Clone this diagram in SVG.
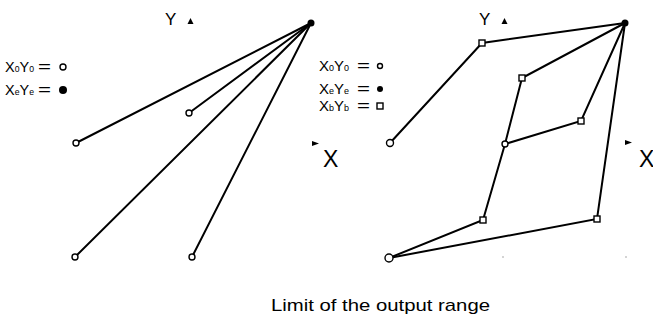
<svg xmlns="http://www.w3.org/2000/svg" width="653" height="320" viewBox="0 0 653 320">
<style>
.ln{stroke:#000;stroke-width:2;fill:none;stroke-linecap:round}
.oc{fill:#fff;stroke:#000;stroke-width:1.4}
.fc{fill:#000}
.sq{fill:#fff;stroke:#000;stroke-width:1.4}
.t{font-family:"Liberation Sans",Arial,sans-serif;fill:#000}
.lg{font-size:15px}
.sub{font-size:9px}
.eq{font-size:15px}
</style>
<rect width="653" height="320" fill="#fff"/>
<g id="connectors">
<line class="ln" x1="76" y1="143" x2="311" y2="23"/>
<line class="ln" x1="189" y1="113" x2="311" y2="23"/>
<line class="ln" x1="75" y1="257" x2="311" y2="23"/>
<line class="ln" x1="192" y1="257" x2="311" y2="23"/>
<polyline class="ln" points="390,143 482,43 625,23"/>
<polyline class="ln" points="625,23 522,78 505,144 483,220 389,258"/>
<polyline class="ln" points="625,23 581,121 505,144"/>
<polyline class="ln" points="625,23 597,219 389,258"/>
</g>
<g id="left-end"><circle class="fc" cx="311" cy="23" r="3.5"/></g>
<g id="left-s1"><circle class="oc" cx="76" cy="143" r="3"/></g>
<g id="left-s2"><circle class="oc" cx="189" cy="113" r="3"/></g>
<g id="left-s3"><circle class="oc" cx="75" cy="257" r="3"/></g>
<g id="left-s4"><circle class="oc" cx="192" cy="257" r="3"/></g>
<g id="right-end"><circle class="fc" cx="625" cy="23" r="3.5"/></g>
<g id="right-s1"><circle class="oc" cx="390" cy="143" r="3.5"/></g>
<g id="right-s2"><circle class="oc" cx="505" cy="144" r="3"/></g>
<g id="right-s3"><circle class="oc" cx="389" cy="258" r="4"/></g>
<g id="right-b1"><rect class="sq" x="479" y="40" width="6" height="6"/></g>
<g id="right-b2"><rect class="sq" x="519" y="75" width="6" height="6"/></g>
<g id="right-b3"><rect class="sq" x="578" y="118" width="6" height="6"/></g>
<g id="right-b4"><rect class="sq" x="480" y="217" width="6" height="6"/></g>
<g id="right-b5"><rect class="sq" x="594" y="216" width="6" height="6"/></g>
<g id="axes">
<text class="t" x="165" y="25" font-size="17">Y</text>
<polygon class="fc" points="190.5,18 193.5,24 187.5,24"/>
<text class="t" x="479" y="25" font-size="17">Y</text>
<polygon class="fc" points="504.5,18 507.5,24 501.5,24"/>
<polygon class="fc" points="312,141 319,143.5 312,146"/>
<text class="t" x="323" y="167" font-size="23">X</text>
<polygon class="fc" points="625,140 632,142.5 625,145"/>
<text class="t" x="639" y="167" font-size="23">X</text>
</g>
<g id="legend-left">
<text class="t lg" x="5" y="72" textLength="29" lengthAdjust="spacingAndGlyphs">X<tspan class="sub">0</tspan>Y<tspan class="sub">0</tspan></text>
<text class="t eq" x="38" y="72" textLength="13" lengthAdjust="spacingAndGlyphs">=</text>
<circle class="oc" cx="63" cy="67" r="3"/>
<text class="t lg" x="5" y="95" textLength="29" lengthAdjust="spacingAndGlyphs">X<tspan class="sub">e</tspan>Y<tspan class="sub">e</tspan></text>
<text class="t eq" x="38" y="95" textLength="13" lengthAdjust="spacingAndGlyphs">=</text>
<circle class="fc" cx="63" cy="90" r="4"/>
</g>
<g id="legend-right">
<text class="t lg" x="319" y="71" textLength="30" lengthAdjust="spacingAndGlyphs">X<tspan class="sub">0</tspan>Y<tspan class="sub">0</tspan></text>
<text class="t eq" x="357" y="71" textLength="13" lengthAdjust="spacingAndGlyphs">=</text>
<circle class="oc" cx="380" cy="66" r="2.5"/>
<text class="t lg" x="319" y="94" textLength="30" lengthAdjust="spacingAndGlyphs">X<tspan class="sub">e</tspan>Y<tspan class="sub">e</tspan></text>
<text class="t eq" x="357" y="94" textLength="13" lengthAdjust="spacingAndGlyphs">=</text>
<circle class="fc" cx="380" cy="89" r="3"/>
<text class="t lg" x="319" y="111" textLength="30" lengthAdjust="spacingAndGlyphs">X<tspan class="sub">b</tspan>Y<tspan class="sub">b</tspan></text>
<text class="t eq" x="357" y="111" textLength="13" lengthAdjust="spacingAndGlyphs">=</text>
<rect class="sq" x="377" y="103" width="6" height="6"/>
</g>
<circle cx="503" cy="257" r="0.7" fill="#888"/>
<circle cx="626" cy="257" r="0.7" fill="#888"/>
<text class="t" x="271" y="311" font-size="17" textLength="219" lengthAdjust="spacingAndGlyphs">Limit of the output range</text>
</svg>
